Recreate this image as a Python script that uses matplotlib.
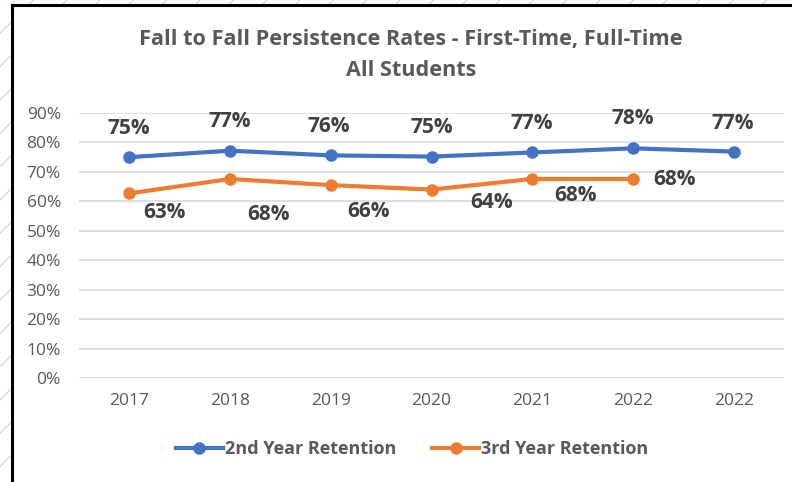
import matplotlib
matplotlib.use("Agg")
import matplotlib.pyplot as plt
from matplotlib.patches import Rectangle
from matplotlib.lines import Line2D
import numpy as np

categories = ["2017", "2018", "2019", "2020", "2021", "2022", "2022"]
second_year = [75.0, 77.2, 75.6, 75.2, 76.6, 78.0, 76.9]
third_year = [62.7, 67.6, 65.5, 64.0, 67.6, 67.6, None]
second_labels = ["75%", "77%", "76%", "75%", "77%", "78%", "77%"]
third_labels = ["63%", "68%", "66%", "64%", "68%", "68%", None]
yticks = [0, 10, 20, 30, 40, 50, 60, 70, 80, 90]

BLUE = "#4472C4"
ORANGE = "#ED7D31"
GRAY = "#595959"
DARK = "#404040"
FONT = ["Open Sans", "DejaVu Sans"]

# label offsets in pixels (dx, dy upward)
second_off = [(-1, 29), (0, 29), (-2, 29), (0, 29), (0, 29), (0, 30), (-1, 28)]
third_off = [(35, -19), (38, -36), (38, -26), (60, -13), (43, -17), (42, -1)]

W, H = 792, 482
fig = plt.figure(figsize=(W / 100, H / 100), dpi=100)
fig.patch.set_facecolor("white")

# hatched surroundings
fig.patches.append(Rectangle((0, 0), 11 / W, 1, transform=fig.transFigure,
                             facecolor="white", edgecolor="#D8D8D8", hatch="/", lw=0))
fig.patches.append(Rectangle((0, 1 - 4 / H), 1, 4 / H, transform=fig.transFigure,
                             facecolor="white", edgecolor="#D8D8D8", hatch="/", lw=0))
# black border
fig.add_artist(Line2D([11.5 / W, 11.5 / W], [0, 1 - 4.5 / H], transform=fig.transFigure,
                      color="black", lw=2.2))
fig.add_artist(Line2D([11.5 / W, 1], [1 - 5 / H, 1 - 5 / H], transform=fig.transFigure,
                      color="black", lw=2.2))

ax = fig.add_axes([79 / W, 1 - 378 / H, (784 - 79) / W, (378 - 113) / H])
x = np.arange(len(categories))
ax.set_xlim(-0.5, len(categories) - 0.5)
ax.set_ylim(0, 90)
for t in yticks:
    ax.axhline(t, color="#D9D9D9", lw=1.2, zorder=0)
ax.set_yticks(yticks)
ax.set_yticklabels([f"{t}%" for t in yticks], fontsize=12.5, color=GRAY, family=FONT)
ax.set_xticks(x)
ax.set_xticklabels(categories, fontsize=12.5, color=GRAY, family=FONT)
ax.tick_params(axis="both", length=0)
ax.tick_params(axis="y", pad=13)
ax.tick_params(axis="x", pad=11)
for s in ax.spines.values():
    s.set_visible(False)
ax.set_facecolor("none")

y2 = np.array(second_year, dtype=float)
y3 = np.array([np.nan if v is None else v for v in third_year], dtype=float)
ax.plot(x, y2, color=BLUE, lw=3, marker="o", ms=8, zorder=3, clip_on=False,
        label="2nd Year Retention")
ax.plot(x, y3, color=ORANGE, lw=3, marker="o", ms=8, zorder=3, clip_on=False,
        label="3rd Year Retention")

px = 72 / 100
for xi, v, lab, (dx, dy) in zip(x, second_year, second_labels, second_off):
    ax.annotate(lab, (xi, v), xytext=(dx * px, dy * px), textcoords="offset points",
                ha="center", va="center", fontsize=15, fontweight="bold",
                color=DARK, family=FONT, annotation_clip=False)
for xi, v, lab, (dx, dy) in zip(x, third_year, third_labels, third_off):
    if v is None:
        continue
    ax.annotate(lab, (xi, v), xytext=(dx * px, dy * px), textcoords="offset points",
                ha="center", va="center", fontsize=15, fontweight="bold",
                color=DARK, family=FONT, annotation_clip=False)

fig.text(411 / W, 1 - 40 / H, "Fall to Fall Persistence Rates - First-Time, Full-Time",
         ha="center", va="center", fontsize=15.6, fontweight="bold", color=GRAY, family=FONT)
fig.text(411 / W, 1 - 71 / H, "All Students",
         ha="center", va="center", fontsize=15.6, fontweight="bold", color=GRAY, family=FONT)

leg = fig.legend(loc="center", bbox_to_anchor=(412 / W, 1 - 449 / H), ncol=2,
                 frameon=False, handlelength=2.6, handletextpad=0.1, columnspacing=2.0,
                 prop={"family": FONT, "size": 13, "weight": "bold"})
for t in leg.get_texts():
    t.set_color(GRAY)

fig.savefig("out.png", dpi=100)
